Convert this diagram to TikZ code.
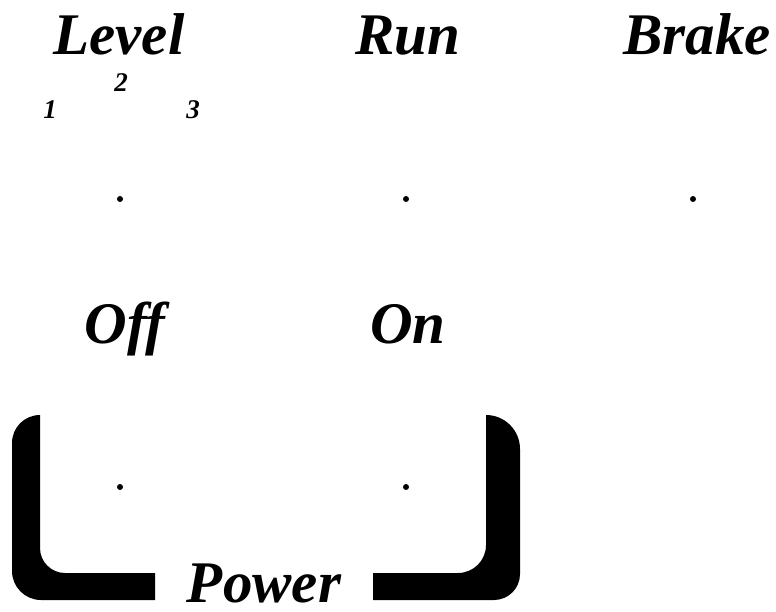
\documentclass[tikz,border=0pt]{standalone}
\usepackage{fontspec}
\setmainfont{Liberation Serif}
\begin{document}
\begin{tikzpicture}[x=1pt,y=-1pt,
  big/.style={font=\fontsize{59}{60}\selectfont\bfseries\itshape, inner sep=0pt, anchor=base},
  small/.style={font=\fontsize{27}{28}\selectfont\bfseries\itshape, inner sep=0pt, anchor=base},
  dotmark/.style={circle, fill=black, inner sep=0pt, minimum size=6pt}]
\useasboundingbox (0,0) rectangle (776,612);
% labels
\node[big] (level) at (119,55) {Level};
\node[big] (run) at (408,55) {Run};
\node[big] (brake) at (697,55) {Brake};
\node[small] (n2) at (121,92) {2};
\node[small] (n1) at (50,119) {1};
\node[small] (n3) at (193,119) {3};
\node[big] (off) at (125,343) {Off};
\node[big] (on) at (408,343) {On};
% dots
\node[dotmark] (d1) at (120,199) {};
\node[dotmark] (d2) at (406,199) {};
\node[dotmark] (d3) at (693,199) {};
\node[dotmark] (d4) at (120,487) {};
\node[dotmark] (d5) at (406,487) {};
% bracket, left piece
\fill[black] (40,415) -- (40,548)
  .. controls (40,561.8) and (51.2,573) .. (65,573)
  -- (155,573) -- (155,600) -- (41,600)
  .. controls (25,600) and (12,587) .. (12,571)
  -- (12,443)
  .. controls (12,427.5) and (24.5,415) .. (40,415) -- cycle;
% bracket, right piece
\fill[black] (486,415) -- (486,545)
  .. controls (486,560.5) and (473.5,573) .. (458,573)
  -- (373,573) -- (373,600) -- (494,600)
  .. controls (508.4,600) and (520,588.4) .. (520,574)
  -- (520,449)
  .. controls (520,430.2) and (504.8,415) .. (486,415) -- cycle;
\node[big] (power) at (264,602) {Power};
\end{tikzpicture}
\end{document}
